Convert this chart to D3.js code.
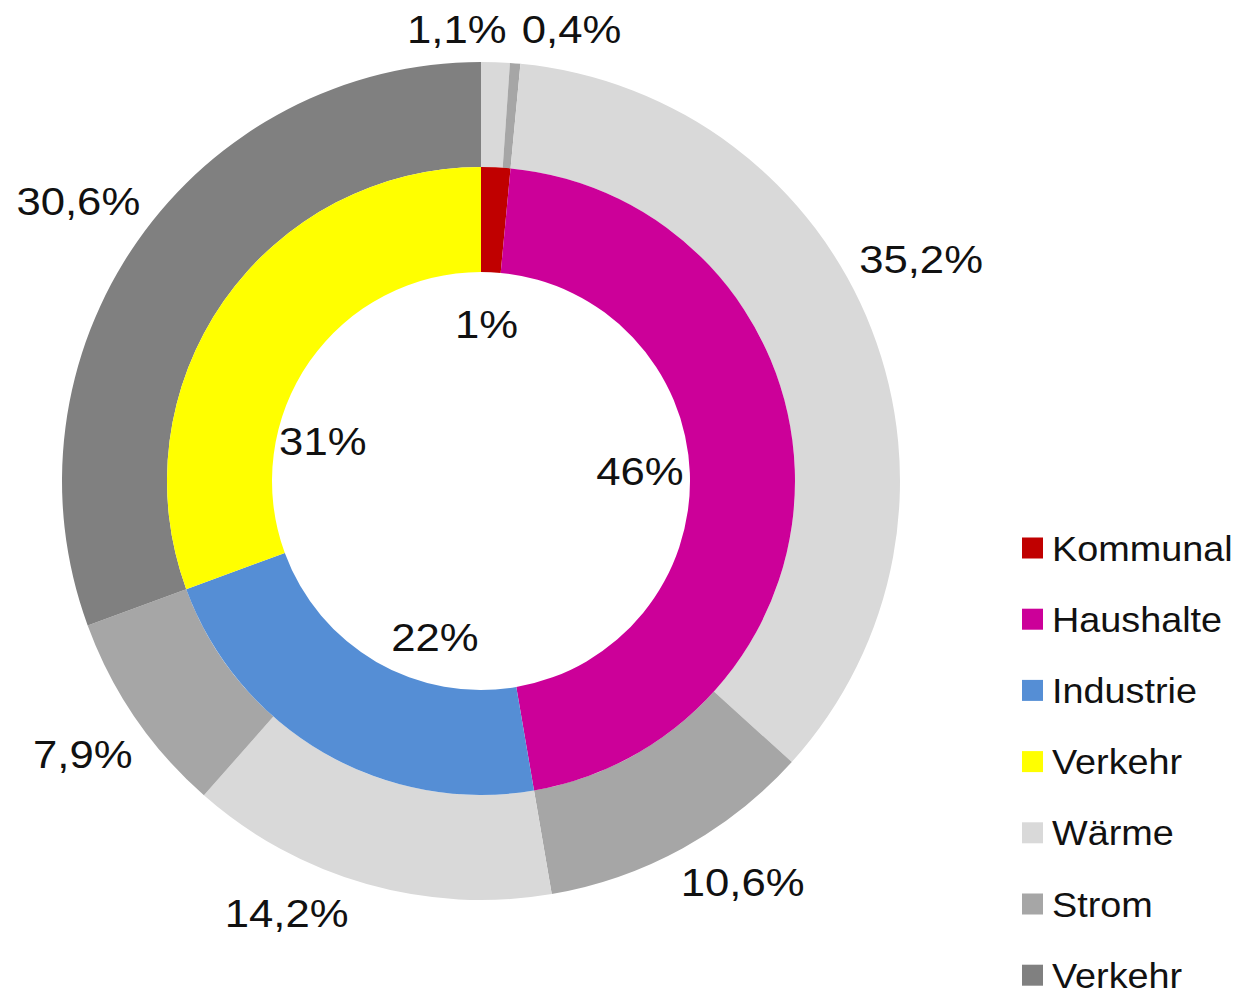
<!DOCTYPE html>
<html>
<head>
<meta charset="utf-8">
<script src="https://cdn.jsdelivr.net/npm/d3@7"></script>
<style>
  body { margin: 0; background: #fff; }
  text { font-family: "Liberation Sans", Arial, sans-serif; fill: #111; }
</style>
</head>
<body>
<div id="chart"></div>
<script>
// Chart data (inner ring shares as drawn, labels rounded as printed)
const sectors = ["Kommunal", "Haushalte", "Industrie", "Verkehr"];
const sectorValues = [1.5, 45.8, 22.1, 30.6];
const sectorLabels = ["1%", "46%", "22%", "31%"];

const energyKinds = ["Wärme", "Strom", "Wärme", "Strom", "Wärme", "Strom", "Verkehr"];
const energyValues = [1.1, 0.4, 35.2, 10.6, 14.2, 7.9, 30.6];
const energyLabels = ["1,1%", "0,4%", "35,2%", "10,6%", "14,2%", "7,9%", "30,6%"];

const legendNames = ["Kommunal", "Haushalte", "Industrie", "Verkehr", "Wärme", "Strom", "Verkehr"];

// Colours
const sectorColors = ["#c00000", "#cc0099", "#558ed5", "#ffff00"];
const kindColors = { "Wärme": "#d9d9d9", "Strom": "#a6a6a6", "Verkehr": "#808080" };
const legendColors = sectorColors.concat([kindColors["Wärme"], kindColors["Strom"], kindColors["Verkehr"]]);

// Small label nudges so they sit where the original put them
const outerNudge = [[-41, 33], [51, 31], [-12, -46], [28, -24], [-62, -35], [2, -1], [-5, -2]];
const innerNudge = [[-2, 3], [-1, -4], [34, 18], [-27, 52]];

const width = 1252, height = 994;
const cx = 481, cy = 481;
const holeR = 209, midR = 314, outerR = 419;
const fontSize = 39, stretch = 1.12;

const svg = d3.select("#chart").append("svg")
  .attr("width", width)
  .attr("height", height);

svg.append("rect").attr("width", width).attr("height", height).attr("fill", "#fff");

const g = svg.append("g").attr("transform", `translate(${cx}, ${cy})`);

const pie = d3.pie().sort(null).value(d => d);

const innerArc = d3.arc().innerRadius(holeR).outerRadius(midR);
const outerArc = d3.arc().innerRadius(midR).outerRadius(outerR);
const outerLabelArc = d3.arc().innerRadius(485).outerRadius(485);
const innerLabelArc = d3.arc().innerRadius(160).outerRadius(160);

const innerData = pie(sectorValues);
const outerData = pie(energyValues);

// Outer ring
g.selectAll("path.outer")
  .data(outerData)
  .enter()
  .append("path")
  .attr("class", "outer")
  .attr("d", outerArc)
  .attr("fill", (d, i) => kindColors[energyKinds[i]]);

// Inner ring
g.selectAll("path.inner")
  .data(innerData)
  .enter()
  .append("path")
  .attr("class", "inner")
  .attr("d", innerArc)
  .attr("fill", (d, i) => sectorColors[i]);

// Labels
function addLabel(pos, txt) {
  g.append("g")
    .attr("transform", `translate(${pos[0]}, ${pos[1]}) scale(${stretch}, 1)`)
    .append("text")
    .attr("text-anchor", "middle")
    .attr("dy", "0.358em")
    .style("font-size", fontSize + "px")
    .text(txt);
}

outerData.forEach((d, i) => {
  const c = outerLabelArc.centroid(d);
  addLabel([c[0] + outerNudge[i][0], c[1] + outerNudge[i][1]], energyLabels[i]);
});

innerData.forEach((d, i) => {
  const c = innerLabelArc.centroid(d);
  addLabel([c[0] + innerNudge[i][0], c[1] + innerNudge[i][1]], sectorLabels[i]);
});

// Legend
const legendX = 1022, legendY = 548, legendStep = 71.2, box = 21;
const legend = svg.append("g").attr("class", "legend");

legendNames.forEach((name, i) => {
  const y = legendY + i * legendStep;
  legend.append("rect")
    .attr("x", legendX)
    .attr("y", y - box / 2)
    .attr("width", box)
    .attr("height", box)
    .attr("fill", legendColors[i]);
  legend.append("g")
    .attr("transform", `translate(${legendX + 30}, ${y}) scale(1.08, 1)`)
    .append("text")
    .attr("dy", "0.358em")
    .style("font-size", "35px")
    .text(name);
});
</script>
</body>
</html>
